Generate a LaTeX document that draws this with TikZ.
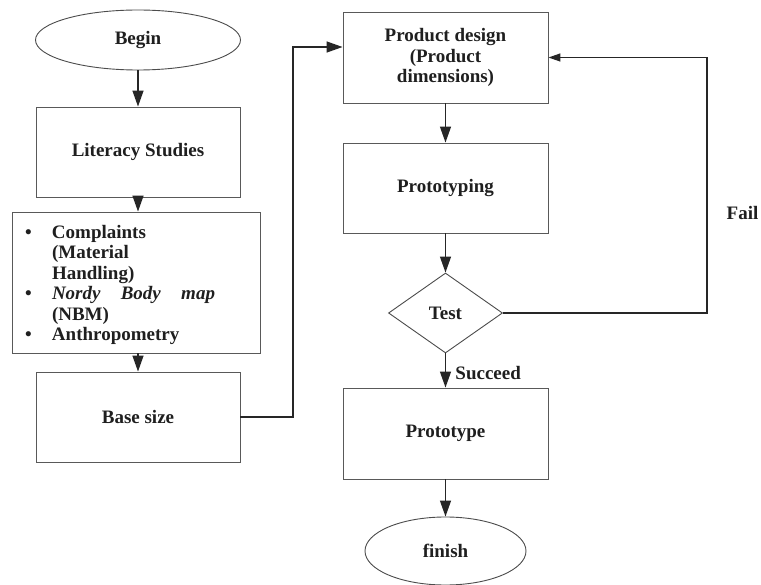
\documentclass[tikz,border=0pt]{standalone}
\usepackage{fontspec}
\setmainfont{Liberation Serif}
\usetikzlibrary{shapes.geometric,arrows.meta}
\begin{document}
\begin{tikzpicture}[x=1pt,y=-1pt,
  every node/.style={font=\fontsize{19}{20.5}\selectfont\bfseries, text=black!88},
  boxstyle/.style={draw=black!65, line width=0.9pt, rectangle, inner sep=0pt, align=center},
  ovalstyle/.style={draw=black!70, line width=0.9pt, ellipse, inner sep=0pt},
  decstyle/.style={draw=black!70, line width=0.9pt, diamond, aspect=1.4, inner sep=0pt, minimum width=114pt, minimum height=80pt},
  conn/.style={draw=black!85, line width=1.3pt, -{Triangle[length=16pt,width=11pt]}},
  connsmall/.style={draw=black!85, line width=1.3pt, -{Triangle[length=12pt,width=8pt]}}]
\useasboundingbox (0,0) rectangle (761,585);
\fill[white] (0,0) rectangle (761,585);

\node[ovalstyle, minimum width=205pt, minimum height=60pt] (begin) at (138,40) {Begin};
\node[boxstyle, minimum width=204pt, minimum height=90pt] (lit) at (138,152) {Literacy Studies};
\node[boxstyle, minimum width=248pt, minimum height=141pt] (comp) at (136,282.5) {};
\node[text width=226pt, align=left, inner sep=0pt] (complist) at (136,285.5)
  {\begin{tabular}{@{}p{29pt}@{}l@{}}
   \hspace*{2pt}\textbullet & Complaints\\
               & (Material\\
               & Handling)\\
   \hspace*{2pt}\textbullet & \makebox[163pt][l]{\itshape Nordy\hfill Body\hfill map}\\
               & (NBM)\\
   \hspace*{2pt}\textbullet & Anthropometry
   \end{tabular}};
\node[boxstyle, minimum width=204pt, minimum height=90pt] (base) at (138,417) {Base size};

\node[boxstyle, minimum width=205pt, minimum height=91pt] (pd) at (445.5,57.5) {Product design\\(Product\\dimensions)};
\node[boxstyle, minimum width=205pt, minimum height=90pt] (proto) at (445.5,188) {Prototyping};
\node[decstyle] (test) at (445.5,313) {Test};
\node[boxstyle, minimum width=205pt, minimum height=91pt] (ptype) at (445.5,433.5) {Prototype};
\node[ovalstyle, minimum width=161pt, minimum height=68pt] (fin) at (445.5,551) {finish};

\coordinate (c1) at (293,47);
\coordinate (c2) at (707,57.5);

\draw[conn] (begin.south) -- (lit.north);
\draw[conn] (lit.south) -- (comp.north -| lit.south);
\draw[conn] (comp.south -| base.north) -- (base.north);
\draw[conn] (base.east) -| (c1) -- (c1 -| pd.west);
\draw[conn] (pd.south) -- (proto.north);
\draw[conn] (proto.south) -- (test.north);
\draw[conn] (test.south) -- node[right, xshift=6pt, yshift=-3pt] (succ) {Succeed} (ptype.north);
\draw[conn] (ptype.south) -- (fin.north);
\draw[connsmall] (test.east) -| (c2) -- (pd.east);
\node (fail) at (742.5,213) {Fail};
\end{tikzpicture}
\end{document}
